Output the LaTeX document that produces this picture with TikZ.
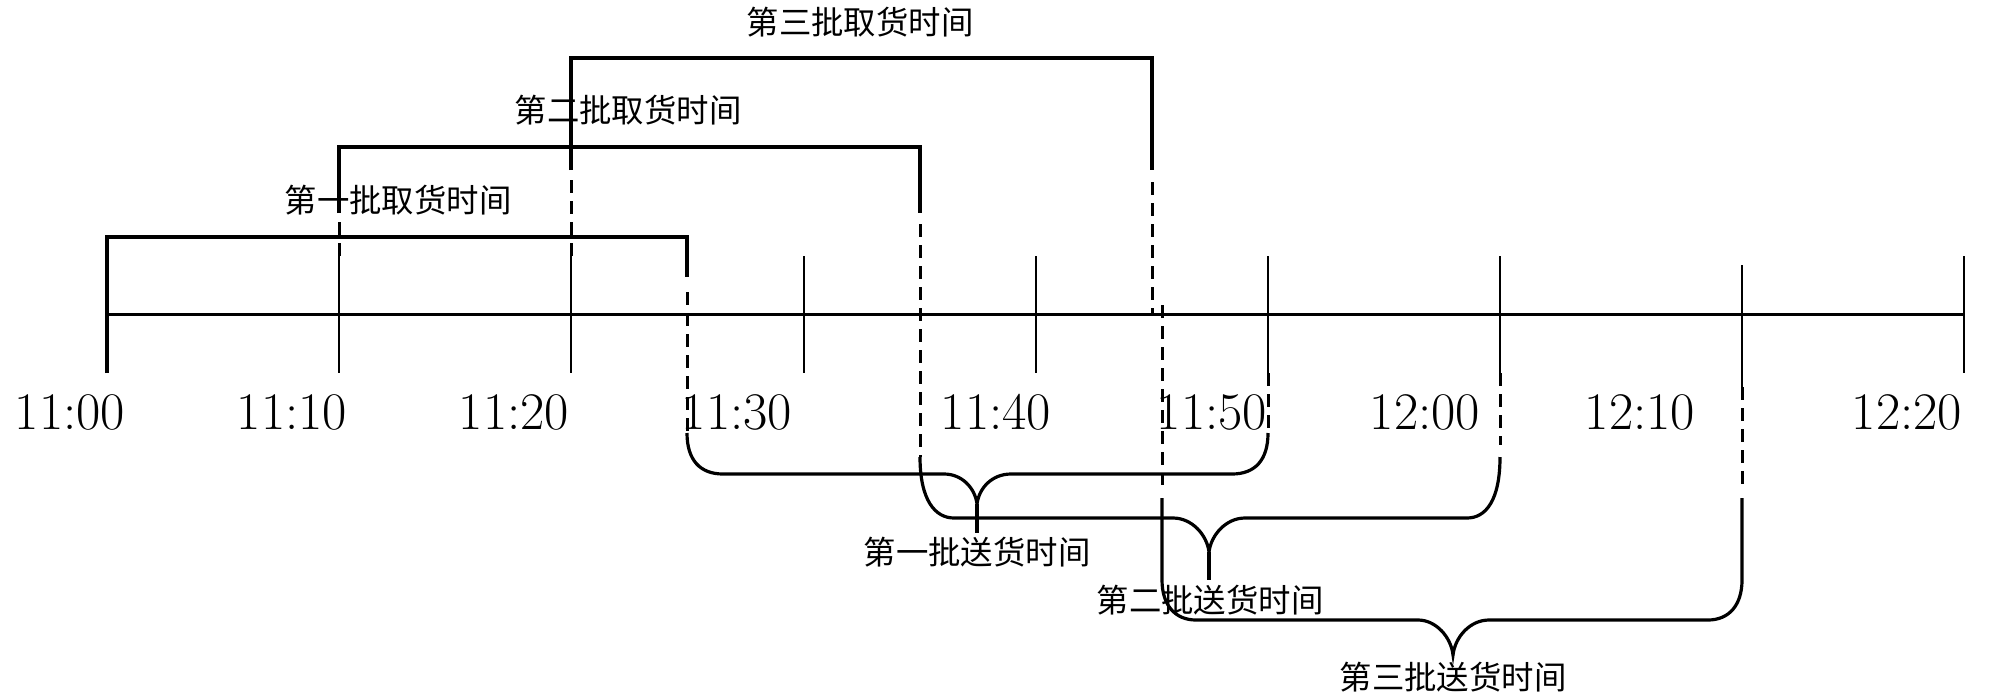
\documentclass[tikz,border=0pt]{standalone}
\usepackage{fontspec}
\newfontfamily\cjk{Noto Sans CJK SC}
\begin{document}
\begin{tikzpicture}[x=0.5pt,y=-0.5pt,
  bracketline/.style={line width=1.6pt},
  axisline/.style={line width=1.5pt},
  tickline/.style={line width=1.4pt},
  dashline/.style={line width=1.5pt, dash pattern=on 6.5pt off 4pt},
  timelabel/.style={font=\fontsize{26.4}{30}\selectfont, inner sep=0pt},
  cnlabel/.style={font=\cjk\fontsize{16.2}{18}\selectfont, inner sep=0pt}]
\useasboundingbox (0,0) rectangle (2000,697);

% axis
\coordinate (axL) at (107,314);
\coordinate (axR) at (1964,314);
\draw[axisline] (axL) -- (axR);

% ticks
\foreach \x in {339,571,804,1036,1268,1500,1964}
  \draw[tickline] (\x,256) -- (\x,373);
\draw[tickline] (1742,265) -- (1742,387);

% time labels
\node[timelabel] (t1100) at (70,412) {11:00};
\node[timelabel] (t1110) at (292,412) {11:10};
\node[timelabel] (t1120) at (514,412) {11:20};
\node[timelabel] (t1130) at (737,412) {11:30};
\node[timelabel] (t1140) at (996,412) {11:40};
\node[timelabel] (t1150) at (1212,412) {11:50};
\node[timelabel] (t1200) at (1425,412) {12:00};
\node[timelabel] (t1210) at (1640,412) {12:10};
\node[timelabel] (t1220) at (1907,412) {12:20};

% pickup brackets
\draw[bracketline] (107,373) -- (107,237) -- (687,237) -- (687,277);
\draw[bracketline] (339,213) -- (339,147) -- (920,147) -- (920,213);
\draw[bracketline] (571,170) -- (571,58) -- (1152,58) -- (1152,170);

% dashed continuations
\draw[dashline] (339,222) -- (339,256);
\draw[dashline] (571,180) -- (571,256);
\draw[dashline] (1152,182) -- (1152,314);
\draw[dashline] (687,292) -- (687,433);
\draw[dashline] (920,224) -- (920,457);
\draw[dashline] (1162,305) -- (1162,485);
\draw[dashline] (1268,373) -- (1268,433);
\draw[dashline] (1500,373) -- (1500,445);
\draw[dashline] (1742,387) -- (1742,485);

% delivery braces
\draw[bracketline] (687,433) .. controls (687,460) and (700,474) .. (723,474)
  -- (944,474) .. controls (962,474) and (975,488) .. (977,504)
  .. controls (979,488) and (992,474) .. (1011,474)
  -- (1232,474) .. controls (1255,474) and (1268,460) .. (1268,433);
\draw[bracketline] (977,504) -- (977,533);

\draw[bracketline] (920,457) .. controls (920,500) and (935,518) .. (954,518)
  -- (1173,518) .. controls (1192,518) and (1207,535) .. (1209,552)
  .. controls (1211,535) and (1226,518) .. (1245,518)
  -- (1467,518) .. controls (1486,518) and (1500,500) .. (1500,457);
\draw[bracketline] (1209,552) -- (1209,580);

\draw[bracketline] (1162,498) -- (1162,580) .. controls (1162,605) and (1175,620) .. (1196,620)
  -- (1418,620) .. controls (1436,620) and (1451,637) .. (1453,655)
  .. controls (1455,637) and (1470,620) .. (1489,620)
  -- (1708,620) .. controls (1729,620) and (1742,605) .. (1742,580) -- (1742,498);

% chinese labels
\node[cnlabel] (p1) at (398,200) {第一批取货时间};
\node[cnlabel] (p2) at (628,110) {第二批取货时间};
\node[cnlabel] (p3) at (860,22) {第三批取货时间};
\node[cnlabel] (d1) at (977,552) {第一批送货时间};
\node[cnlabel] (d2) at (1210,600) {第二批送货时间};
\node[cnlabel] (d3) at (1453,677) {第三批送货时间};
\end{tikzpicture}
\end{document}
